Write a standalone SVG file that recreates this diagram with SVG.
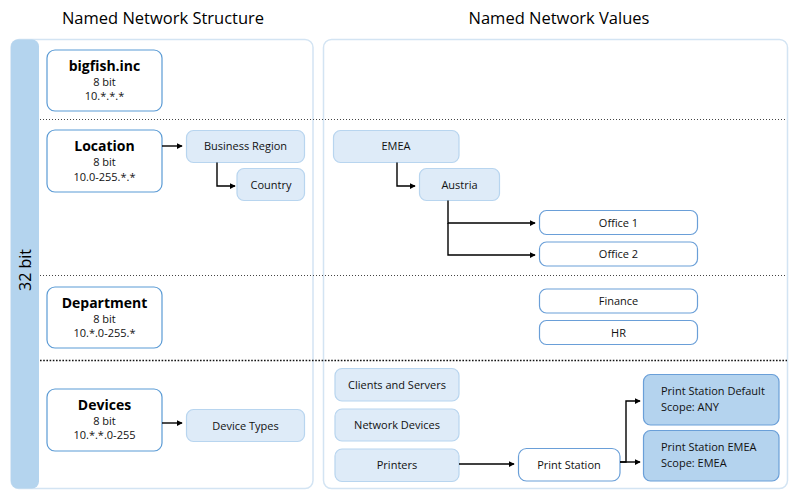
<svg xmlns="http://www.w3.org/2000/svg" width="798" height="500" viewBox="0 0 798 500">
<defs>
<marker id="ah" viewBox="0 0 8 8" refX="7" refY="4" markerWidth="6" markerHeight="6" markerUnits="userSpaceOnUse" orient="auto">
<path d="M0,0 L8,4 L0,8 z" fill="#000"/>
</marker>
<style>
text{font-family:"Open Sans","Noto Sans","Liberation Sans",sans-serif;fill:#111;text-anchor:middle}
.hdr{font-size:16.5px;fill:#000}
.ttl{font-size:14px;font-weight:700;fill:#000}
.sm{font-size:11px}
.panel{fill:#fff;stroke:#d3e4f3;stroke-width:1.5}
.lay{fill:#fff;stroke:#5b9bd5;stroke-width:1.2}
.lt{fill:#deebf8;stroke:#b8d5ef;stroke-width:1.2}
.wt{fill:#fff;stroke:#6a9fd8;stroke-width:1.2}
.dk{fill:#b4d3ee;stroke:#6a9fd8;stroke-width:1.2}
.dot{stroke:#444;stroke-width:1;stroke-dasharray:1 2;fill:none}
.dot2{stroke:#111;stroke-width:1.6;stroke-dasharray:1.6 1.6;fill:none}
.cn{stroke:#000;stroke-width:1.4;fill:none;marker-end:url(#ah)}
</style>
</defs>
<rect width="798" height="500" fill="#fff"/>
<text class="hdr" x="163" y="24">Named Network Structure</text>
<text class="hdr" x="559" y="24">Named Network Values</text>
<g id="panels">
<rect class="panel" x="11" y="39.5" width="302" height="449" rx="8"/>
<rect class="panel" x="323.5" y="39.5" width="464" height="449" rx="8"/>
<rect x="11" y="39.5" width="28" height="449" rx="7" fill="#b4d4ee"/>
<text x="0" y="0" transform="translate(31,270) rotate(-90)" style="font-size:16px;fill:#000">32 bit</text>
</g>
<g id="separators">
<line class="dot" x1="40" y1="119.5" x2="787" y2="119.5"/>
<line class="dot" x1="40" y1="275.5" x2="787" y2="275.5"/>
<line class="dot2" x1="40" y1="360.5" x2="787" y2="360.5"/>
</g>
<g id="bigfish">
<rect class="lay" x="47" y="50" width="115" height="61" rx="8"/>
<text class="ttl" x="104.5" y="71">bigfish.inc</text>
<text class="sm" x="104.5" y="86">8 bit</text>
<text class="sm" x="104.5" y="100">10.*.*.*</text>
</g>
<g id="location">
<rect class="lay" x="47" y="130" width="115" height="62" rx="8"/>
<text class="ttl" x="104.5" y="151">Location</text>
<text class="sm" x="104.5" y="166">8 bit</text>
<text class="sm" x="104.5" y="181">10.0-255.*.*</text>
</g>
<g id="department">
<rect class="lay" x="47" y="287" width="115" height="61" rx="8"/>
<text class="ttl" x="104.5" y="308">Department</text>
<text class="sm" x="104.5" y="323">8 bit</text>
<text class="sm" x="104.5" y="337">10.*.0-255.*</text>
</g>
<g id="devices">
<rect class="lay" x="47" y="389" width="115" height="62" rx="8"/>
<text class="ttl" x="104.5" y="410">Devices</text>
<text class="sm" x="104.5" y="425">8 bit</text>
<text class="sm" x="104.5" y="439">10.*.*.0-255</text>
</g>
<g id="business-region">
<rect class="lt" x="186.5" y="130.5" width="118" height="32" rx="7"/>
<text class="sm" x="245.5" y="150">Business Region</text>
</g>
<g id="country">
<rect class="lt" x="237" y="168.5" width="67.5" height="32" rx="7"/>
<text class="sm" x="271" y="188.5">Country</text>
</g>
<g id="device-types">
<rect class="lt" x="186.5" y="409.5" width="118" height="32" rx="7"/>
<text class="sm" x="245.5" y="429.5">Device Types</text>
</g>
<g id="emea">
<rect class="lt" x="333.5" y="130.5" width="125.5" height="32" rx="7"/>
<text class="sm" x="396" y="150">EMEA</text>
</g>
<g id="austria">
<rect class="lt" x="419.5" y="168.5" width="80" height="32" rx="7"/>
<text class="sm" x="459.5" y="188.5">Austria</text>
</g>
<g id="office1">
<rect class="wt" x="539.5" y="210.5" width="158" height="24" rx="7"/>
<text class="sm" x="618.5" y="226.5">Office 1</text>
</g>
<g id="office2">
<rect class="wt" x="539.5" y="242" width="158" height="24" rx="7"/>
<text class="sm" x="618.5" y="258">Office 2</text>
</g>
<g id="finance">
<rect class="wt" x="539.5" y="289" width="158" height="24" rx="7"/>
<text class="sm" x="618.5" y="305">Finance</text>
</g>
<g id="hr">
<rect class="wt" x="539.5" y="320.5" width="158" height="24" rx="7"/>
<text class="sm" x="618.5" y="336.5">HR</text>
</g>
<g id="clients-servers">
<rect class="lt" x="335" y="368.5" width="124" height="32.5" rx="7"/>
<text class="sm" x="397" y="388.5">Clients and Servers</text>
</g>
<g id="network-devices">
<rect class="lt" x="335" y="409" width="124" height="32" rx="7"/>
<text class="sm" x="397" y="429">Network Devices</text>
</g>
<g id="printers">
<rect class="lt" x="335" y="449" width="124" height="32.5" rx="7"/>
<text class="sm" x="397" y="469">Printers</text>
</g>
<g id="print-station">
<rect class="wt" x="518.5" y="448.5" width="101.5" height="32.5" rx="8"/>
<text class="sm" x="569" y="468.5">Print Station</text>
</g>
<g id="ps-default">
<rect class="dk" x="643.5" y="374.5" width="135.5" height="50.5" rx="7"/>
<text class="sm" x="661" y="395" style="text-anchor:start">Print Station Default</text>
<text class="sm" x="661" y="410.5" style="text-anchor:start">Scope: ANY</text>
</g>
<g id="ps-emea">
<rect class="dk" x="643.5" y="430.5" width="135.5" height="50.5" rx="7"/>
<text class="sm" x="661" y="451" style="text-anchor:start">Print Station EMEA</text>
<text class="sm" x="661" y="466.5" style="text-anchor:start">Scope: EMEA</text>
</g>
<g id="connectors">
<path class="cn" d="M162,146 H182"/>
<path class="cn" d="M217,162.5 V186 H235"/>
<path class="cn" d="M162,423 H182"/>
<path class="cn" d="M397,162.5 V186 H415"/>
<path class="cn" d="M448,200.5 V223 H535"/>
<path class="cn" d="M448,223 V255 H535"/>
<path class="cn" d="M459,464 H514"/>
<path class="cn" d="M620,462 H626 V401 H640"/>
<path class="cn" d="M620,462 H640"/>
</g>
</svg>
